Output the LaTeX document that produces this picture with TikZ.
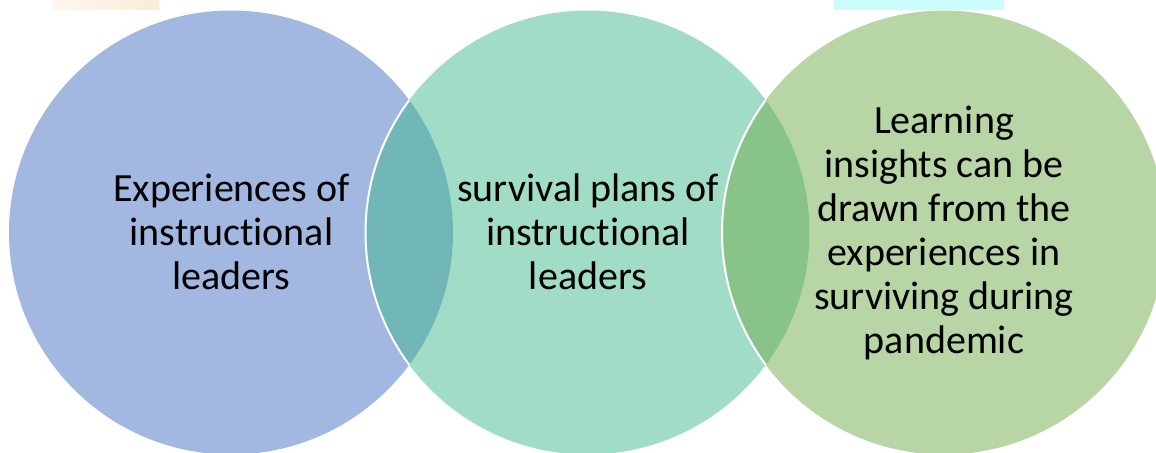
\documentclass[tikz,border=0pt]{standalone}
\usepackage{fontspec}
\setmainfont{Carlito}[Ligatures=NoCommon]

\definecolor{bluefill}{RGB}{162,184,224}
\definecolor{tealfill}{RGB}{161,220,199}
\definecolor{greenfill}{RGB}{184,214,165}
\definecolor{bluetealmix}{RGB}{114,183,183}
\definecolor{tealgreenmix}{RGB}{136,196,138}
\definecolor{peachbar}{RGB}{252,235,216}
\definecolor{cyanbar}{RGB}{204,252,252}

\tikzset{every picture/.style={line width=0.75pt}}
\tikzset{
  venntext/.style={align=center, inner sep=0pt, font=\fontsize{30}{33}\selectfont},
  vennedge/.style={draw=white, line width=1.5pt}
}

\begin{document}
\begin{tikzpicture}[x=0.75pt,y=0.75pt,yscale=-1,xscale=1]
	\useasboundingbox (0,0) rectangle (1156,453);

	%Shape: Rectangle [id:barleft]
	\fill [left color=peachbar!40, right color=peachbar] (52,0) rectangle (159,10);
	%Shape: Rectangle [id:barright]
	\fill [cyanbar] (834,0) rectangle (1004,10);

	%Shape: Circle [id:circleone]
	\fill [bluefill] (231,232.5) circle [radius=222];
	%Shape: Circle [id:circletwo]
	\fill [tealfill] (587.5,232.5) circle [radius=222];
	%Shape: Circle [id:circlethree]
	\fill [greenfill] (944,232.5) circle [radius=222];

	%Shape: Lens [id:lensonetwo]
	\begin{scope}
		\clip (231,232.5) circle [radius=222];
		\fill [bluetealmix] (587.5,232.5) circle [radius=222];
		\draw [vennedge] (587.5,232.5) circle [radius=222];
	\end{scope}
	%Shape: Lens [id:lenstwothree]
	\begin{scope}
		\clip (587.5,232.5) circle [radius=222];
		\fill [tealgreenmix] (944,232.5) circle [radius=222];
		\draw [vennedge] (944,232.5) circle [radius=222];
	\end{scope}

	% Text Node
	\node [venntext] (experiences) at (231.5,232) {Experiences of\\instructional\\leaders};
	% Text Node
	\node [venntext] (survival) at (588,232) {survival plans of\\instructional\\leaders};
	% Text Node
	\node [venntext] (insights) at (944,233) {Learning\\insights can be\\drawn from the\\experiences in\\surviving during\\pandemic};

\end{tikzpicture}
\end{document}
